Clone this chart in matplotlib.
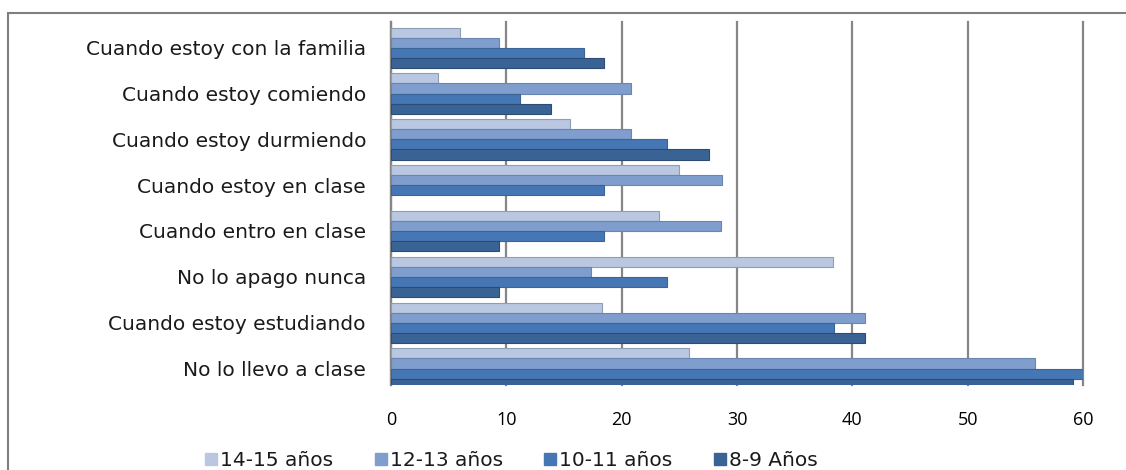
import numpy as np
import matplotlib
matplotlib.use("Agg")
import matplotlib.pyplot as plt
from matplotlib.patches import Rectangle
from matplotlib.lines import Line2D

# categories, bottom to top
categories = [
    "No lo llevo a clase",
    "Cuando estoy estudiando",
    "No lo apago nunca",
    "Cuando entro en clase",
    "Cuando estoy en clase",
    "Cuando estoy durmiendo",
    "Cuando estoy comiendo",
    "Cuando estoy con la familia",
]
series_names = ["14-15 años", "12-13 años", "10-11 años", "8-9 Años"]
age_14_15 = [25.8, 18.3, 38.3, 23.2, 25.0, 15.5, 4.1, 6.0]
age_12_13 = [55.8, 41.1, 17.3, 28.6, 28.7, 20.8, 20.8, 9.4]
age_10_11 = [60.0, 38.4, 23.9, 18.5, 18.5, 23.9, 11.2, 16.7]
age_8_9 = [59.1, 41.1, 9.4, 9.4, 0.0, 27.6, 13.9, 18.5]
xticks = [0, 10, 20, 30, 40, 50, 60]

series = [age_14_15, age_12_13, age_10_11, age_8_9]
colors = ["#B9C7E1", "#7F9ECD", "#4677B5", "#3A6395"]
edges = ["#8E9DB8", "#6A86B0", "#3A6496", "#2C4C74"]

W, H = 1126, 470
fig = plt.figure(figsize=(W / 100, H / 100), dpi=100)
ax = fig.add_axes([391 / W, 1 - 385 / H, (1083 - 391) / W, (385 - 22) / H])

y = np.arange(len(categories))
bh = 0.22
for i, vals in enumerate(series):
    offs = (1.5 - i) * bh
    bars = ax.barh(y + offs, vals, height=bh, color=colors[i],
                   edgecolor=edges[i], linewidth=0.8, zorder=3)
    for b, v in zip(bars, vals):
        if v == 0:
            b.set_linewidth(0)

ax.set_xlim(0, 60)
ax.set_ylim(-0.36, 7.56)
ax.set_xticks(xticks)
ax.set_xticklabels([str(t) for t in xticks], fontsize=13, family="Open Sans")
ax.set_yticks(y)
ax.set_yticklabels(categories, fontsize=14.5, family="DejaVu Sans",
                   color="#1a1a1a")
ax.tick_params(axis="x", length=0, pad=19)
ax.tick_params(axis="y", length=0, pad=18)
ax.xaxis.grid(True, color="#868686", linewidth=1.6, zorder=0)
for gl in ax.get_xgridlines():
    gl.set_clip_on(False)
for s in ["top", "right", "bottom"]:
    ax.spines[s].set_visible(False)
ax.spines["left"].set_color("#868686")
ax.spines["left"].set_linewidth(1.6)

# outer chart border (only top and left are inside the picture)
fig.patches.append(Rectangle((8 / W, -0.5), 2, 1.5 - 13 / H,
                             transform=fig.transFigure, fill=False,
                             edgecolor="#7F7F7F", linewidth=1.5))

handles = [Line2D([0], [0], marker="s", linestyle="none", markersize=8,
                  markerfacecolor=c, markeredgecolor=c) for c in colors]
leg = fig.legend(handles, series_names, loc="center", ncol=4,
                 bbox_to_anchor=(511 / W, 1 - 461 / H), frameon=False,
                 prop={"family": "DejaVu Sans", "size": 14.5},
                 handletextpad=0.1, columnspacing=2.0, handlelength=0.7)
for t in leg.get_texts():
    t.set_color("#1a1a1a")

fig.savefig("out.png", dpi=100)
